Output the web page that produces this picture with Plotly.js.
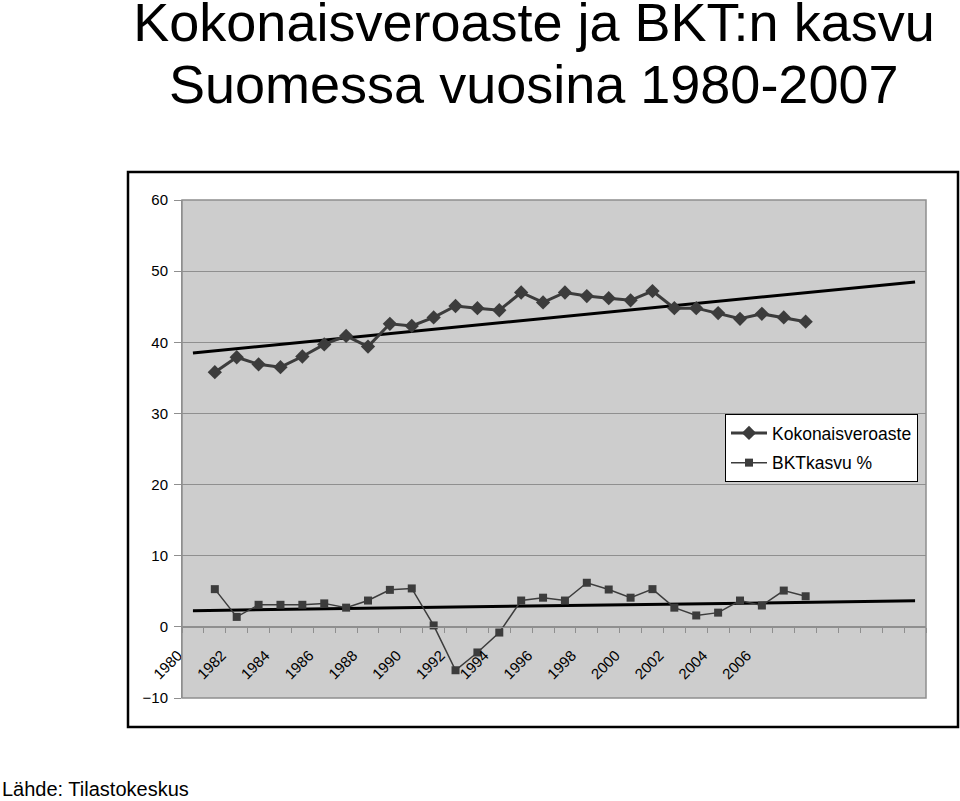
<!DOCTYPE html>
<html>
<head>
<meta charset="utf-8">
<script src="https://cdn.plot.ly/plotly-3.0.1.min.js"></script>
<style>
  html, body { margin: 0; padding: 0; background: #ffffff; }
  #chart { width: 960px; height: 801px; }
</style>
</head>
<body>
<div id="chart"></div>
<script>
// Axis categories (as in the original spreadsheet: first category row is empty of data)
const categories = ['1980','1981','1982','1983','1984','1985','1986','1987','1988','1989',
                    '1990','1991','1992','1993','1994','1995','1996','1997','1998','1999',
                    '2000','2001','2002','2003','2004','2005','2006','2007','2008','2009',
                    '2010','2011','2012','2013'];
// Category labels that are printed on the axis
const labeledYears = ['1980','1982','1984','1986','1988','1990','1992','1994','1996','1998',
                      '2000','2002','2004','2006'];

// Kokonaisveroaste (%), aligned to categories (first slot empty)
const taxRate = [null, 35.8, 37.9, 36.9, 36.5, 38.0, 39.7, 40.9, 39.4, 42.6, 42.3,
                 43.5, 45.1, 44.8, 44.5, 47.0, 45.6, 47.0, 46.5, 46.2, 45.9,
                 47.2, 44.8, 44.8, 44.1, 43.3, 44.0, 43.5, 42.9];
// BKT:n kasvu (%), aligned to categories (first slot empty)
const gdpGrowth = [null, 5.3, 1.4, 3.1, 3.1, 3.1, 3.3, 2.7, 3.7, 5.2, 5.4,
                   0.2, -6.1, -3.6, -0.8, 3.7, 4.1, 3.7, 6.2, 5.25, 4.1,
                   5.3, 2.7, 1.6, 2.0, 3.7, 3.0, 5.1, 4.3];

const seriesNames = ['Kokonaisveroaste', 'BKTkasvu %'];

// Linear least-squares trend over category index, evaluated over the whole axis
function linearTrend(values) {
  const xs = [], ys = [];
  values.forEach((v, i) => { if (v !== null) { xs.push(i); ys.push(v); } });
  const n = xs.length;
  const mx = xs.reduce((a, b) => a + b, 0) / n;
  const my = ys.reduce((a, b) => a + b, 0) / n;
  let sxy = 0, sxx = 0;
  for (let k = 0; k < n; k++) { sxy += (xs[k] - mx) * (ys[k] - my); sxx += (xs[k] - mx) * (xs[k] - mx); }
  const slope = sxy / sxx, icpt = my - slope * mx;
  const last = categories.length - 1;
  return { x: [categories[0], categories[last]], y: [icpt, icpt + slope * last] };
}

const taxTrend = linearTrend(taxRate);
const gdpTrend = linearTrend(gdpGrowth);

const xs = categories.slice(0, taxRate.length);
const ink = '#3c3c3c';
const axisGray = '#8f8f8f';
const FONT = 'Liberation Sans, Arial, sans-serif';

const traces = [
  { x: taxTrend.x, y: taxTrend.y, type: 'scatter', mode: 'lines',
    line: { color: '#000000', width: 3 }, showlegend: false, hoverinfo: 'skip' },
  { x: gdpTrend.x, y: gdpTrend.y, type: 'scatter', mode: 'lines',
    line: { color: '#000000', width: 3 }, showlegend: false, hoverinfo: 'skip' },
  { x: xs, y: taxRate, name: seriesNames[0], type: 'scatter', mode: 'lines+markers',
    legendgroup: 'a',
    line: { color: ink, width: 3 },
    marker: { symbol: 'diamond', size: 11, color: ink } },
  { x: xs, y: gdpGrowth, name: seriesNames[1], type: 'scatter', mode: 'lines+markers',
    legendgroup: 'b',
    line: { color: ink, width: 1.5 },
    marker: { symbol: 'square', size: 8, color: ink } }
];

const layout = {
  width: 960, height: 801,
  margin: { l: 182, r: 34, t: 200, b: 103 },
  paper_bgcolor: '#ffffff',
  plot_bgcolor: '#cdcdcd',
  font: { family: FONT, size: 15, color: '#000000' },
  title: {
    text: 'Kokonaisveroaste ja BKT:n kasvu',
    font: { family: FONT, size: 54, color: '#000000' },
    xref: 'container', x: 534 / 960, xanchor: 'center',
    yref: 'container', y: 1 - 22 / 801, yanchor: 'middle'
  },
  annotations: [
    { text: 'Suomessa vuosina 1980-2007', xref: 'paper', yref: 'paper',
      x: (534 - 182) / 744, y: (698 - 84) / 498, xanchor: 'center', yanchor: 'middle',
      showarrow: false, font: { family: FONT, size: 54, color: '#000000' } },
    { text: 'Lähde: Tilastokeskus', xref: 'paper', yref: 'paper',
      x: (0 - 182) / 744, y: (698 - 789) / 498, xanchor: 'left', yanchor: 'middle',
      showarrow: false, font: { family: FONT, size: 20, color: '#000000' } }
  ],
  xaxis: {
    type: 'category', categoryorder: 'array', categoryarray: categories,
    range: [-0.5, categories.length - 0.5],
    tickmode: 'array', tickvals: categories,
    ticktext: categories.map(c => labeledYears.includes(c) ? c : ''),
    tickson: 'boundaries',
    ticks: 'outside', ticklen: 5, tickcolor: axisGray, tickwidth: 1,
    tickangle: -45, tickfont: { family: FONT, size: 15, color: '#000000' },
    ticklabelstandoff: 13, ticklabelshift: -15,
    showline: true, linecolor: axisGray, linewidth: 1,
    showgrid: false, zeroline: false,
    anchor: 'free', position: 10 / 70
  },
  yaxis: {
    range: [-10, 60], tickmode: 'linear', tick0: 0, dtick: 10,
    showgrid: true, gridcolor: axisGray, gridwidth: 1,
    showline: true, linecolor: axisGray, linewidth: 1,
    ticks: 'outside', ticklen: 7, tickcolor: axisGray,
    ticklabelstandoff: 3,
    tickfont: { family: FONT, size: 15, color: '#000000' },
    zeroline: false
  },
  legend: {
    x: (725 - 182) / 744, y: (698 - 414) / 498, xanchor: 'left', yanchor: 'top',
    bgcolor: '#ffffff', bordercolor: '#000000', borderwidth: 1,
    tracegroupgap: 4, itemwidth: 36,
    font: { family: FONT, size: 17.5, color: '#000000' }
  },
  shapes: [
    { type: 'rect', xref: 'paper', yref: 'paper', x0: 0, x1: 1, y0: 0, y1: 1,
      line: { color: axisGray, width: 1.5 }, layer: 'above' },
    { type: 'rect', xref: 'paper', yref: 'paper',
      x0: (128 - 182) / 744, x1: (958 - 182) / 744,
      y0: (698 - 727) / 498, y1: (698 - 172) / 498,
      line: { color: '#000000', width: 2.5 }, layer: 'above' }
  ],
  showlegend: true
};

Plotly.newPlot('chart', traces, layout, { displayModeBar: false, staticPlot: true });
</script>
</body>
</html>
